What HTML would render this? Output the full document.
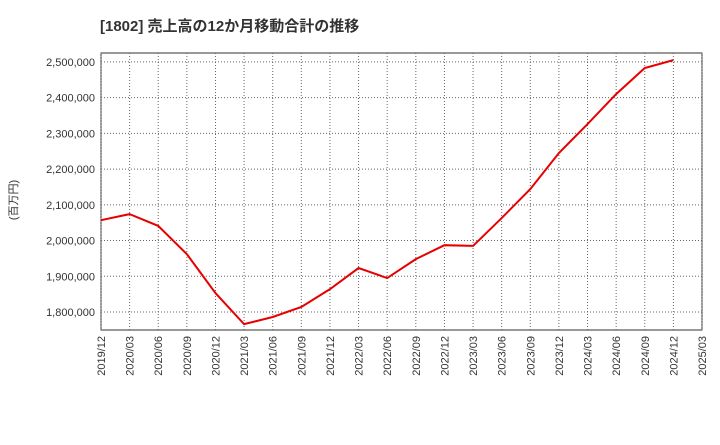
<!DOCTYPE html>
<html><head><meta charset="utf-8"><style>
body{margin:0;background:#fff;}
svg text{font-family:"Liberation Sans","Noto Sans CJK JP",sans-serif;}
</style></head><body>
<svg id="c" width="720" height="440">
<text x="100" y="31" font-size="15" font-weight="bold" fill="#333">[1802]  売上高の12か月移動合計の推移</text>
<text transform="translate(17,200) rotate(-90)" text-anchor="middle" font-size="11" fill="#333">(百万円)</text>
</svg>
<script>
const categories=["2019/12","2020/03","2020/06","2020/09","2020/12","2021/03","2021/06","2021/09","2021/12","2022/03","2022/06","2022/09","2022/12","2023/03","2023/06","2023/09","2023/12","2024/03","2024/06","2024/09","2024/12","2025/03"];
const salesValues=[2057000,2074000,2041000,1962000,1853000,1766000,1786000,1814000,1864000,1923000,1895000,1948000,1987000,1985000,2063000,2144000,2245000,2326000,2410000,2483000,2505000];
const yTicks=[1800000,1900000,2000000,2100000,2200000,2300000,2400000,2500000];
const L=101,R=702,T=53,B=330,ymin=1749600,ymax=2525000;
const svg=document.getElementById('c');const NS='http://www.w3.org/2000/svg';
const xs=i=>L+(R-L)*i/(categories.length-1);
const ys=v=>B-(v-ymin)/(ymax-ymin)*(B-T);
function mk(t,a,p){const e=document.createElementNS(NS,t);for(const k in a)e.setAttribute(k,a[k]);(p||svg).appendChild(e);return e;}
const bg=mk('rect',{x:L,y:T,width:R-L,height:B-T,fill:'#fff',stroke:'#333','stroke-width':1});


yTicks.forEach(v=>{const y=ys(v);
const g=mk('line',{x1:L,x2:R,y1:y,y2:y,stroke:'#666','stroke-dasharray':'1,2','stroke-width':1});


const t=mk('text',{x:L-6,y:y+4,'text-anchor':'end','font-size':11,fill:'#333'});t.textContent=v.toLocaleString('en-US');

});
categories.forEach((c,i)=>{const x=xs(i);
const g=mk('line',{x1:x,x2:x,y1:T,y2:B,stroke:'#666','stroke-dasharray':'1,2','stroke-width':1});


const t=mk('text',{transform:`translate(${x+4},${B+6}) rotate(-90)`,'text-anchor':'end','font-size':11,fill:'#333'});t.textContent=c;

});
const line=mk('polyline',{points:salesValues.map((v,i)=>xs(i)+','+ys(v)).join(' '),fill:'none',stroke:'#e60000','stroke-width':2});


</script>
</body></html>
